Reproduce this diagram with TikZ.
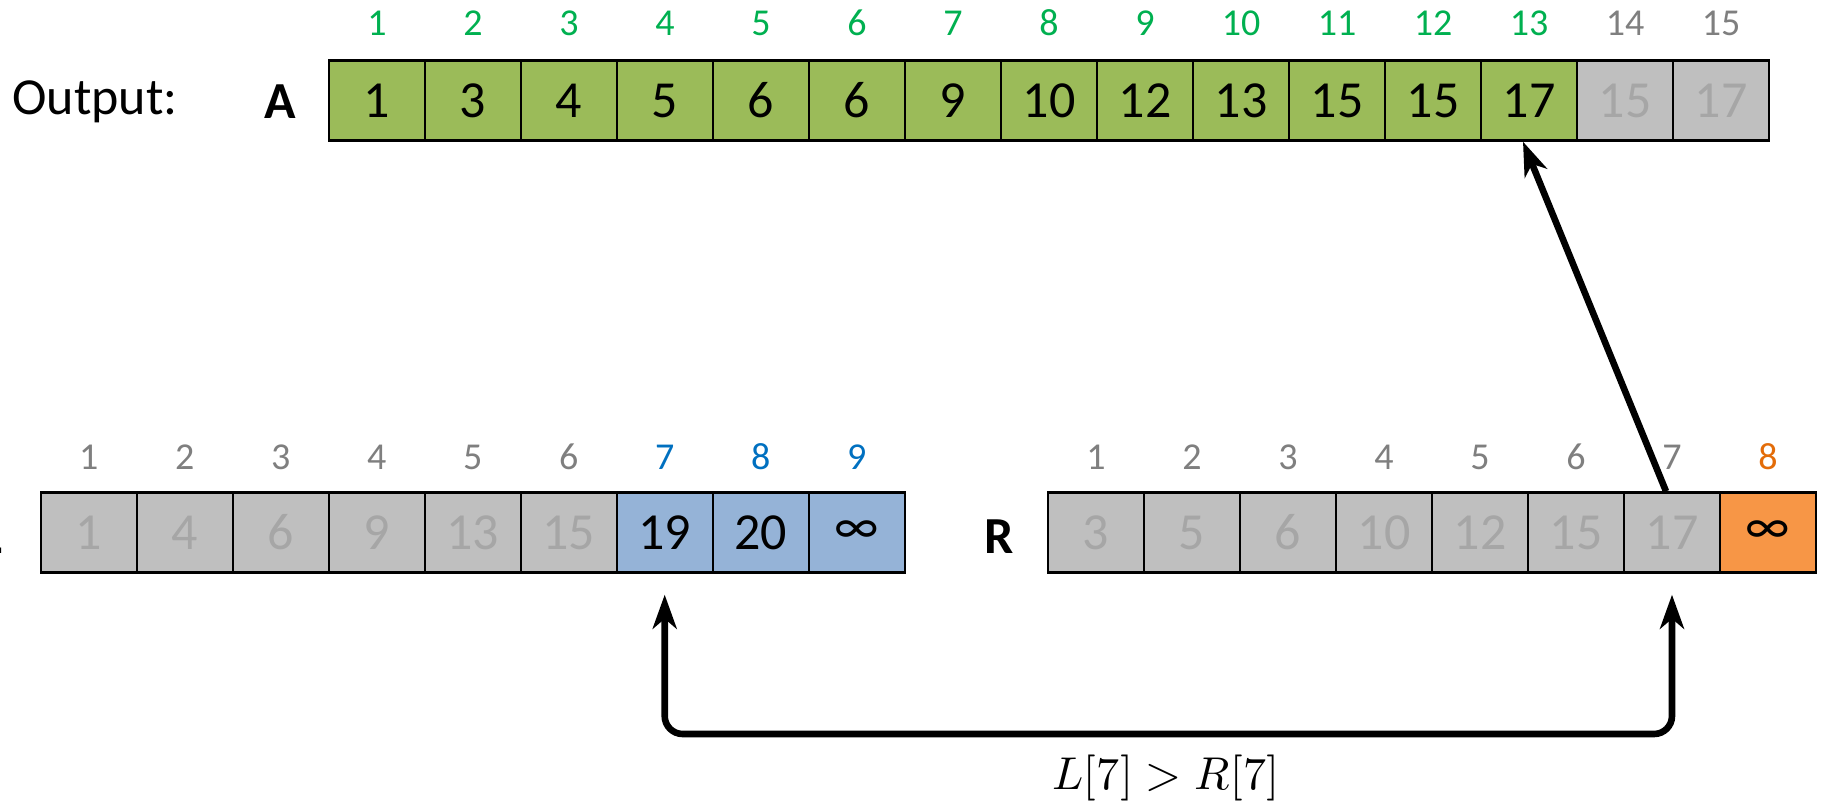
\documentclass[tikz,border=0pt]{standalone}
\usepackage{fontspec}
\usepackage{unicode-math}
\setmainfont{Carlito}
\usetikzlibrary{arrows.meta,calc}
\definecolor{cgreen}{HTML}{9BBB59}
\definecolor{cgray}{HTML}{BFBFBF}
\definecolor{cblue}{HTML}{95B3D7}
\definecolor{corange}{HTML}{F79646}
\definecolor{tgreen}{HTML}{00B050}
\definecolor{tgray}{HTML}{7F7F7F}
\definecolor{tlight}{HTML}{A6A6A6}
\definecolor{tblue}{HTML}{0070C0}
\definecolor{torange}{HTML}{E36C09}
\begin{document}
\begin{tikzpicture}[x=0.5pt,y=-0.5pt,
  cell/.style={draw=black, line width=1.2pt, minimum width=48pt, minimum height=40pt, inner sep=0pt, font=\fontsize{26}{30}\selectfont},
  gcell/.style={cell, fill=cgray, text=tlight},
  idx/.style={inner sep=0pt, font=\fontsize{19}{22}\selectfont},
  lbl/.style={inner sep=0pt, font=\fontsize{26}{30}\selectfont},
  arr/.style={line width=3.3pt, -{Stealth[length=17pt,width=12pt,inset=5pt]}},
  darr/.style={line width=3.3pt, {Stealth[length=17pt,width=12pt,inset=5pt]}-{Stealth[length=17pt,width=12pt,inset=5pt]}, rounded corners=9pt}]
\useasboundingbox (0,0) rectangle (1822,805);

% ---- output array A ----
\node[lbl, anchor=west] (out) at (12,102) {Output:};
\node[lbl, font=\fontsize{26}{30}\selectfont\bfseries] (A) at (280,102) {A};
\foreach \v [count=\i] in {1,3,4,5,6,6,9,10,12,13,15,15,17}
  \node[cell, fill=cgreen] (a\i) at ({281+96*\i},100.5) {\v};
\node[gcell] (a14) at ({281+96*14},100.5) {15};
\node[gcell] (a15) at ({281+96*15},100.5) {17};
\foreach \i in {1,...,13}
  \node[idx, text=tgreen] (ai\i) at ({281+96*\i},23) {\i};
\foreach \i in {14,15}
  \node[idx, text=tgray] (ai\i) at ({281+96*\i},23) {\i};

% ---- left array L ----
\node[lbl, font=\fontsize{26}{30}\selectfont\bfseries, anchor=east] (L) at (3,537) {L};
\foreach \v [count=\i] in {1,4,6,9,13,15}
  \node[gcell] (l\i) at ({-7.3+96*\i},532.5) {\v};
\node[cell, fill=cblue] (l7) at ({-7.3+96*7},532.5) {19};
\node[cell, fill=cblue] (l8) at ({-7.3+96*8},532.5) {20};
\node[cell, fill=cblue] (l9) at ({-7.3+96*9},532.5) {∞};
\foreach \i in {1,...,6}
  \node[idx, text=tgray] (li\i) at ({-7.3+96*\i},457) {\i};
\foreach \i in {7,8,9}
  \node[idx, text=tblue] (li\i) at ({-7.3+96*\i},457) {\i};

% ---- right array R ----
\node[lbl, font=\fontsize{26}{30}\selectfont\bfseries] (R) at (999,537) {R};
\foreach \v [count=\i] in {3,5,6,10,12,15,17}
  \node[gcell] (r\i) at ({1000+96*\i},532.5) {\v};
\node[cell, fill=corange] (r8) at ({1000+96*8},532.5) {∞};
\foreach \i in {1,...,7}
  \node[idx, text=tgray] (ri\i) at ({1000+96*\i},457) {\i};
\node[idx, text=torange] (ri8) at ({1000+96*8},457) {8};

% ---- connectors ----
\draw[arr] ([xshift=-3pt]r7.north) -- ([xshift=-3pt]a13.south);
\coordinate (lt) at ($(l7.south)+(0,21)$);
\coordinate (rt) at ($(r7.south)+(0,21)$);
\coordinate (base) at (0,734);
\draw[darr] (lt) -- (lt |- base) -- (rt |- base) -- (rt);
\node[inner sep=0pt, font=\fontsize{23}{26}\selectfont] (cond) at (1166,778) {$L[7] > R[7]$};
\end{tikzpicture}
\end{document}
